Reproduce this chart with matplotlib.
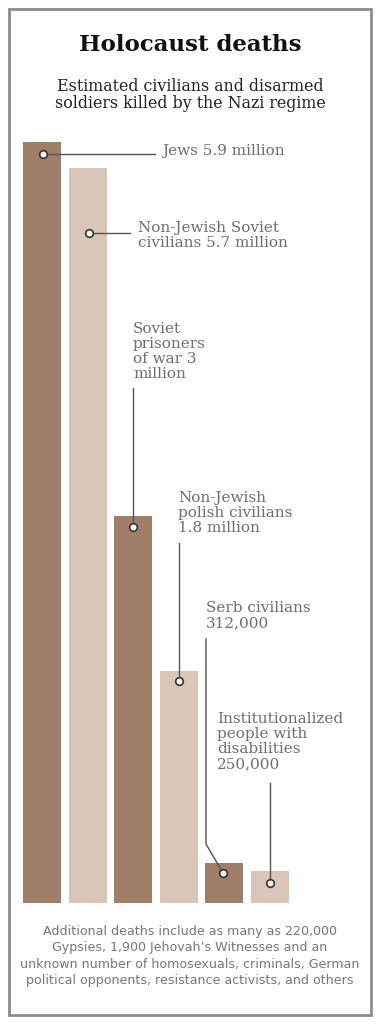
import numpy as np
import matplotlib
matplotlib.use("Agg")
import matplotlib.pyplot as plt
from matplotlib.patches import Rectangle

# data
groups = ["Jews", "Non-Jewish Soviet civilians", "Soviet prisoners of war",
          "Non-Jewish polish civilians", "Serb civilians",
          "Institutionalized people with disabilities"]
deaths = [5.9, 5.7, 3.0, 1.8, 0.312, 0.25]   # millions
labels = ["Jews 5.9 million",
          "Non-Jewish Soviet\ncivilians 5.7 million",
          "Soviet\nprisoners\nof war 3\nmillion",
          "Non-Jewish\npolish civilians\n1.8 million",
          "Serb civilians\n312,000",
          "Institutionalized\npeople with\ndisabilities\n250,000"]
title = "Holocaust deaths"
subtitle = "Estimated civilians and disarmed\nsoldiers killed by the Nazi regime"
note = ("Additional deaths include as many as 220,000\n"
        "Gypsies, 1,900 Jehovah\u2019s Witnesses and an\n"
        "unknown number of homosexuals, criminals, German\n"
        "political opponents, resistance activists, and others")

dark = "#a17e67"
light = "#d9c6b8"
txt = "#6e6e6e"
W, H = 380, 1028

fig = plt.figure(figsize=(W / 100, H / 100), dpi=100)
fig.patch.set_facecolor("white")

def fx(x):
    return x / W

def fy(y):
    return 1 - y / H

# frame
fig.add_artist(Rectangle((fx(9), fy(1015)), fx(362), (1006) / H, transform=fig.transFigure,
                         fill=False, edgecolor="#8c8c8c", linewidth=2))

# bar axes: base at y=903px, 5.9M at y=142px
step = 45.6
left = 42 - step / 2
ax = fig.add_axes([fx(left), fy(903), fx(6 * step), (903 - 142) / H])
ax.set_xlim(-0.5, 5.5)
ax.set_ylim(0, max(deaths))
ax.axis("off")

x = np.arange(len(deaths))
cols = [dark if i % 2 == 0 else light for i in x]
ax.bar(x, deaths, width=38 / step, color=cols, edgecolor="none")

inv = ax.transData.inverted()

def d(px, py):
    return inv.transform((px, H - py))

# dots (pixel y of the dot) and leader line paths in pixels
dot_y = [154, 233, 527, 681, 873, 883]
dot_x = [43, 89, 133, 179, 223, 270]
paths = [[(155, 154)],
         [(130, 233)],
         [(133, 388)],
         [(179, 543)],
         [(206, 844), (206, 639)],
         [(270, 783)]]
for i in x:
    pts = [(dot_x[i], dot_y[i])] + paths[i]
    dp = np.array([d(px, py) for px, py in pts])
    ax.plot(dp[:, 0], dp[:, 1], color="#555555", lw=1, clip_on=False, zorder=3)
    p0 = d(dot_x[i], dot_y[i])
    ax.plot(p0[0], p0[1], "o", ms=5.5, mfc="white", mec="#333333", mew=1.2,
            clip_on=False, zorder=4)

# labels
lab_pos = [(162, 151, "center"), (138, 221, "top"), (133, 322, "top"),
           (178, 491, "top"), (206, 601, "top"), (217, 712, "top")]
for (lx, ly, va), s in zip(lab_pos, labels):
    fig.text(fx(lx), fy(ly), s, ha="left", va=va, family="DejaVu Serif",
             fontsize=11, color=txt, linespacing=1.1)

fig.text(0.5, fy(45), title, ha="center", va="center", family="DejaVu Serif",
         fontweight="bold", fontsize=16.5, color="#111111")
fig.text(0.5, fy(95), subtitle, ha="center", va="center", family="DejaVu Serif",
         fontsize=11.4, color="#222222", linespacing=1.02)
fig.text(0.5, fy(956), note, ha="center", va="center", family="DejaVu Sans",
         fontsize=9.1, color="#777777", linespacing=1.32)

fig.savefig("out.png", dpi=100)
